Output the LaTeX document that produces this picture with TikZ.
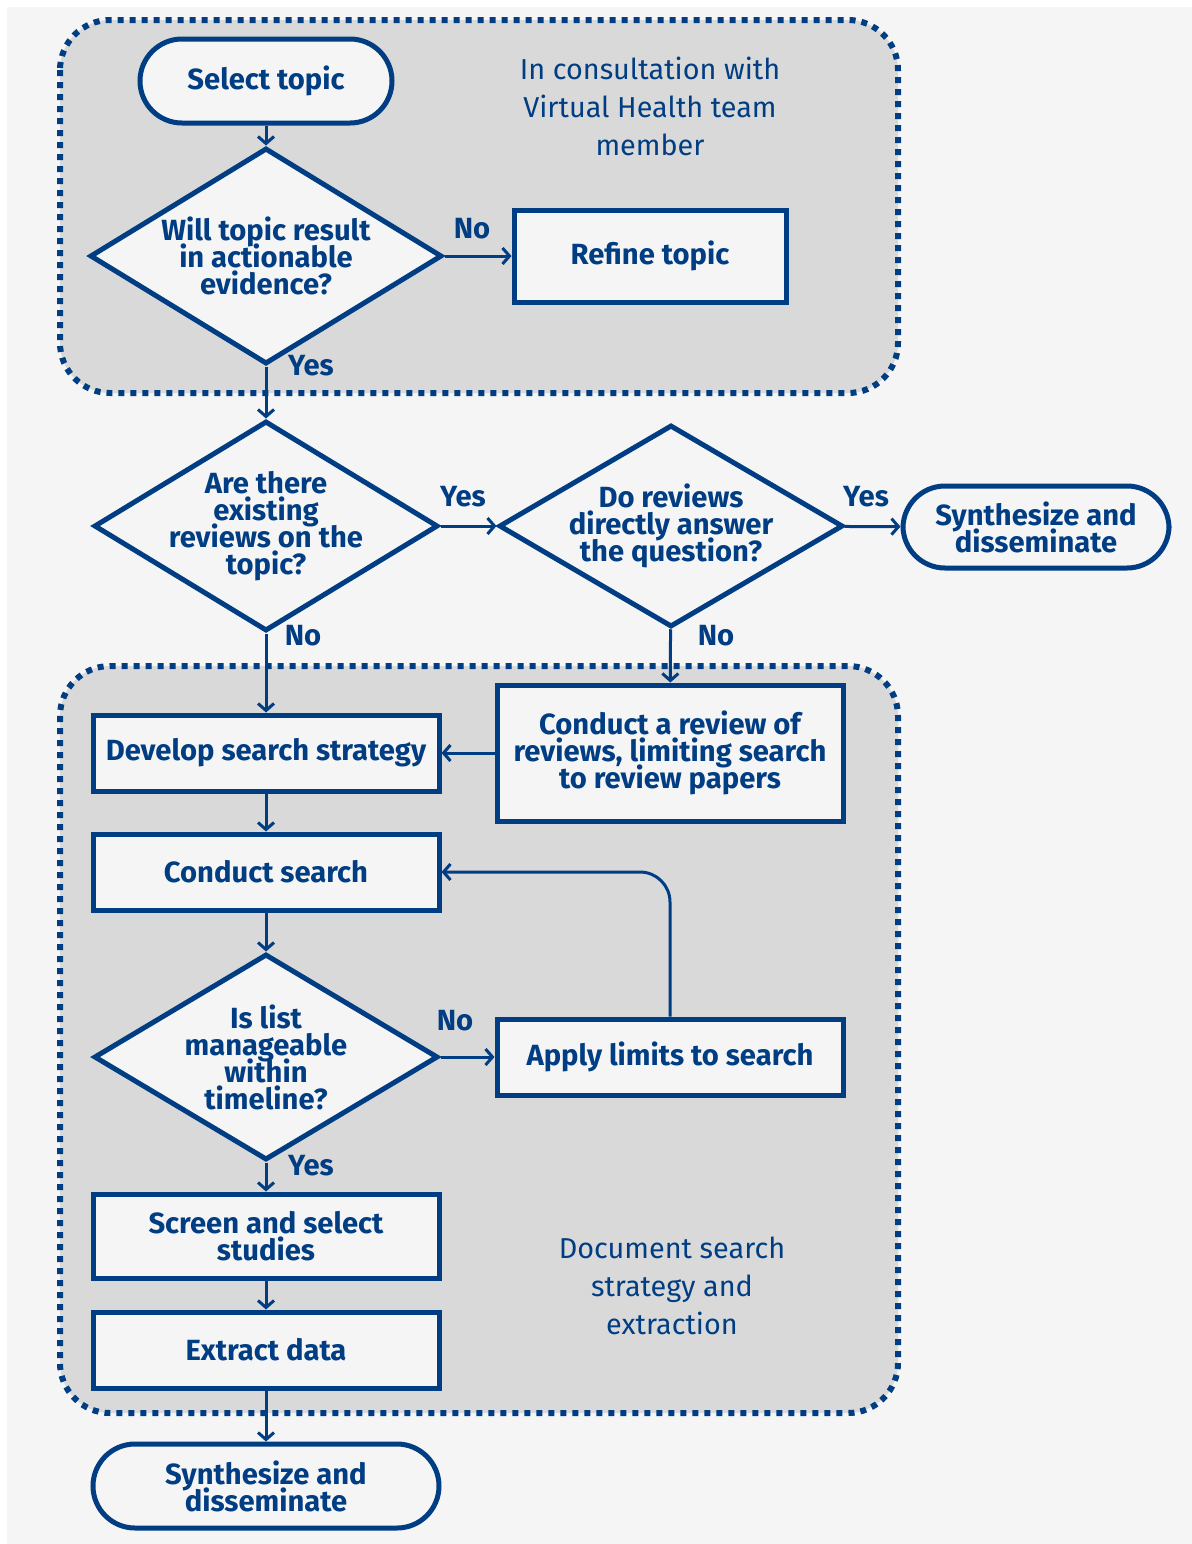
\documentclass[tikz,border=0pt]{standalone}
\usepackage{fontspec}
\setmainfont{Fira Sans}
\usetikzlibrary{shapes.geometric,arrows.meta}
\definecolor{navy}{RGB}{0,61,130}
\definecolor{pagegray}{RGB}{245,245,245}
\definecolor{zonegray}{RGB}{217,217,217}
\setlength{\lineskiplimit}{-20pt}

\begin{document}
\begin{tikzpicture}[x=0.5pt,y=-0.5pt,
    >={Straight Barb[length=3.5pt,width=8pt]},
    every node/.style={text=navy,font=\fontsize{14.6}{13.5}\selectfont\bfseries},
    zone/.style={fill=zonegray,draw=navy,line width=3pt,dash pattern=on 3pt off 3pt,rounded corners=25pt},
    box/.style={draw=navy,fill=pagegray,line width=2.5pt,align=center,minimum width=173pt},
    term/.style={box,rounded corners=21pt},
    query/.style={box,diamond,inner sep=-15pt,minimum width=172pt,minimum height=103pt},
    arr/.style={->,draw=navy,line width=1.5pt},
    lbl/.style={inner sep=0pt},
    note/.style={align=center,font=\fontsize{14.4}{19}\selectfont}]
    \useasboundingbox (0,0) rectangle (1192,1544);
    \fill[white] (0,0) rectangle (1192,1544);
    \fill[pagegray] (7,7) rectangle (1192,1544);
    \draw[zone] (60,20) rectangle (898,393);
    \draw[zone] (60,666) rectangle (898,1413);

    \node[term,minimum width=126pt,minimum height=42pt] (select) at (266,81) {Select topic};
    \node[query,minimum width=176pt,minimum height=108pt] (actionable) at (266,256) {Will topic result\\in actionable\\evidence?};
    \node[box,minimum width=136pt,minimum height=46pt] (refine) at (650,256) {Refine topic};
    \node[note] (consult) at (650,106) {In consultation with\\Virtual Health team\\member};
    \node[query,minimum height=105pt] (existing) at (266,526) {Are there\\existing\\reviews on the\\topic?};
    \node[query,minimum height=101pt] (answer) at (671,526) {Do reviews\\directly answer\\the question?};
    \node[term,minimum width=133pt,minimum height=41pt] (synthtop) at (1036,527) {Synthesize and\\disseminate};
    \node[box,minimum height=38pt] (develop) at (266,753) {Develop search strategy};
    \node[box,minimum height=68pt] (revrev) at (670,753) {Conduct a review of\\reviews, limiting search\\to review papers};
    \node[box,minimum height=38pt] (search) at (266,872) {Conduct search};
    \node[query] (manageable) at (266,1057) {Is list\\manageable\\within\\timeline?};
    \node[box,minimum height=38pt] (limits) at (670,1057) {Apply limits to search};
    \node[box,minimum height=42pt] (screen) at (266,1236) {Screen and select\\studies};
    \node[box,minimum height=38pt] (extract) at (266,1350) {Extract data};
    \node[term,minimum height=42pt] (synthend) at (266,1486) {Synthesize and\\disseminate};
    \node[note] (document) at (672,1286) {Document search\\strategy and\\extraction};

    \node[lbl] (no1) at (472,229) {No};
    \node[lbl] (yes1) at (311,366) {Yes};
    \node[lbl] (yes2) at (463,497) {Yes};
    \node[lbl] (yes3) at (866,497) {Yes};
    \node[lbl] (no2) at (303,636) {No};
    \node[lbl] (no3) at (716,636) {No};
    \node[lbl] (no4) at (455,1021) {No};
    \node[lbl] (yes4) at (311,1166) {Yes};

    \draw[arr] (select) -- (actionable);
    \draw[arr] (actionable) -- (refine);
    \draw[arr] (actionable) -- (existing);
    \draw[arr] (existing) -- (answer);
    \draw[arr] (answer) -- (synthtop);
    \draw[arr] (existing) -- (develop);
    \draw[arr] (answer) -- (revrev);
    \draw[arr] (revrev) -- (develop);
    \draw[arr] (develop) -- (search);
    \draw[arr] (search) -- (manageable);
    \draw[arr] (manageable) -- (limits);
    \draw[arr,rounded corners=15pt] (limits.north) |- (search.east);
    \draw[arr] (manageable) -- (screen);
    \draw[arr] (screen) -- (extract);
    \draw[arr] (extract) -- (synthend);
\end{tikzpicture}
\end{document}
